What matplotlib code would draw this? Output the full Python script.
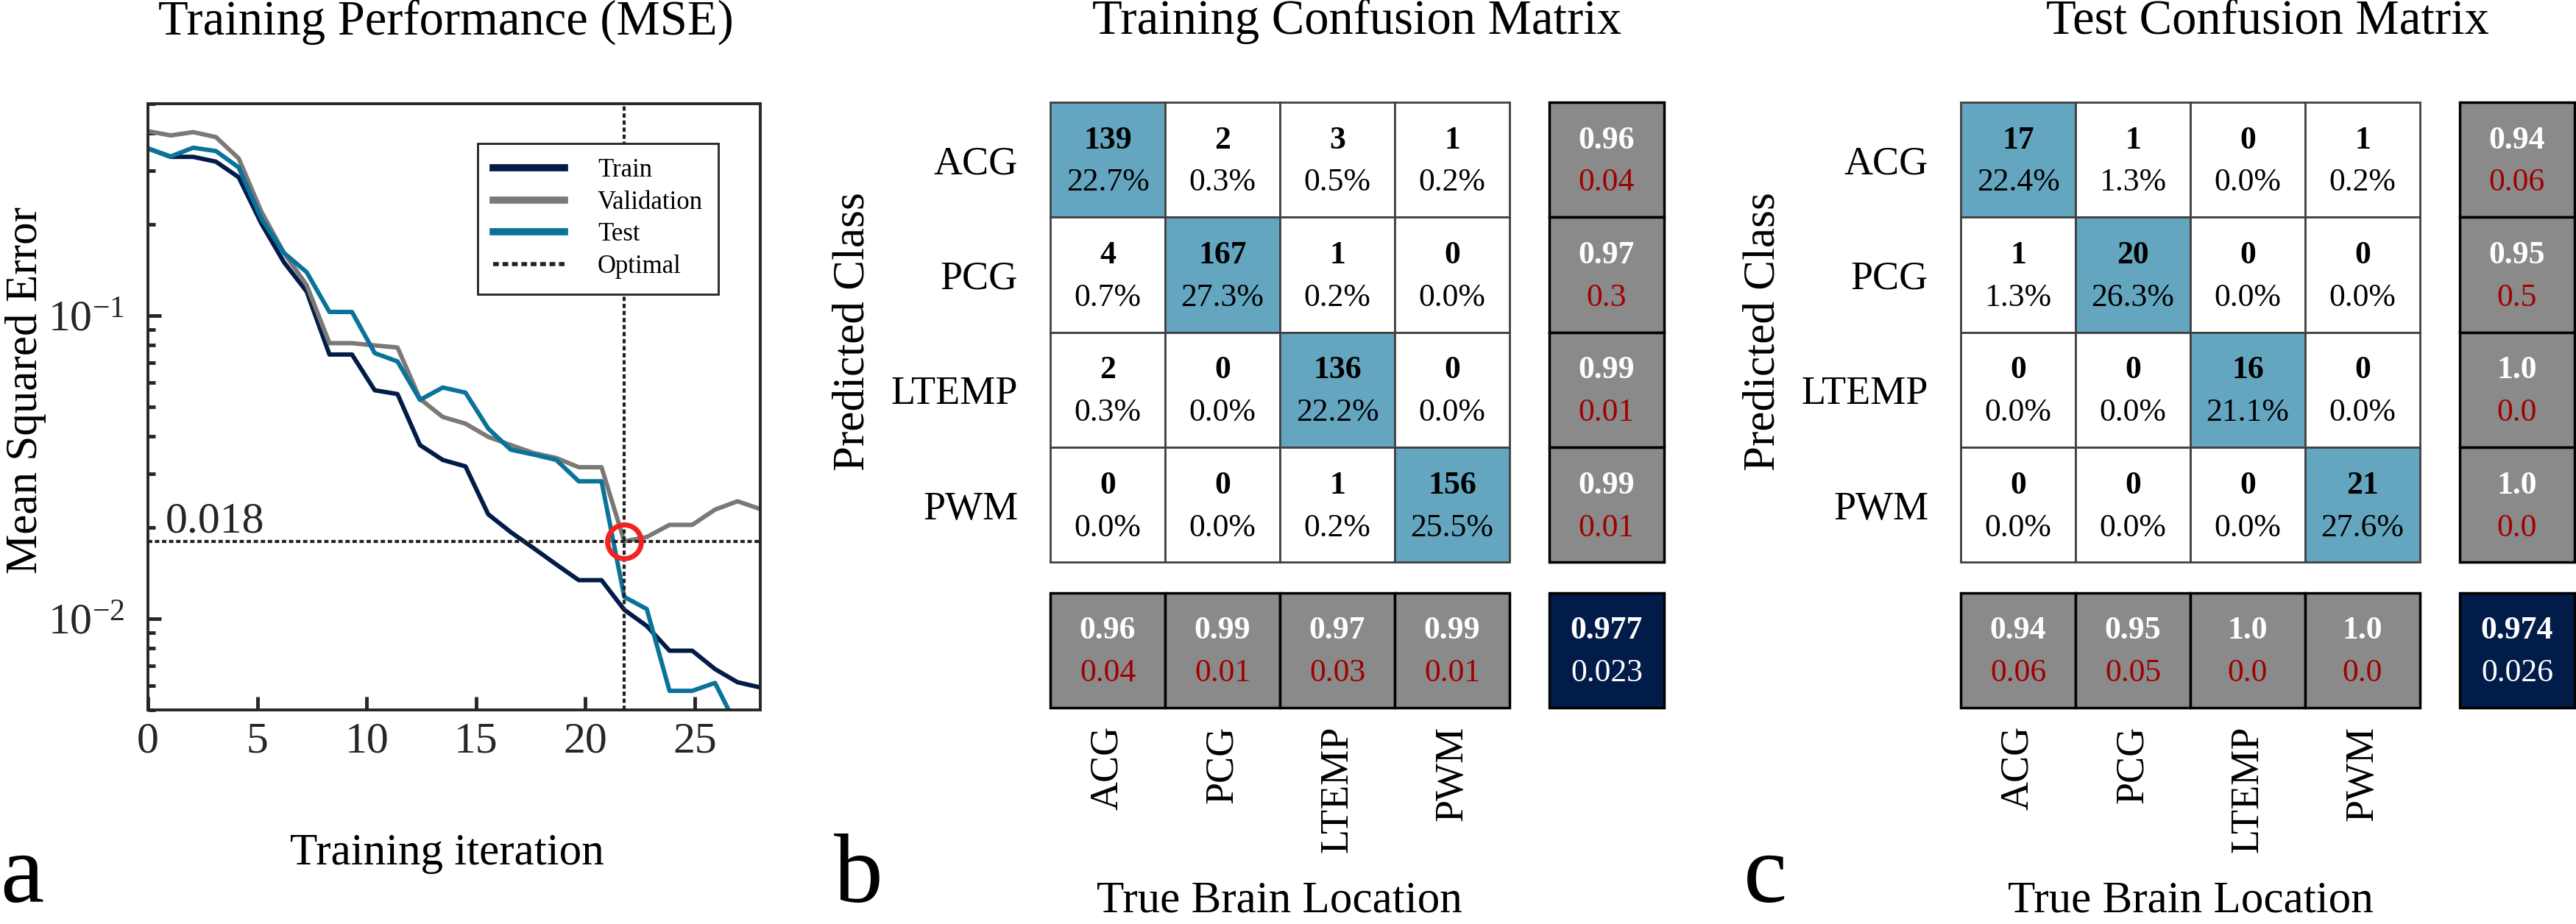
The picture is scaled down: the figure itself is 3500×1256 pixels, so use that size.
import matplotlib
matplotlib.use("Agg")
import matplotlib.pyplot as plt
from matplotlib.patches import Rectangle
from matplotlib.ticker import NullFormatter

plt.rcParams["font.family"] = ["Liberation Serif", "DejaVu Serif"]
plt.rcParams["mathtext.fontset"] = "custom"
plt.rcParams["mathtext.rm"] = "Liberation Serif"
plt.rcParams["axes.unicode_minus"] = False

# ---------------- data ----------------
classes = ["ACG", "PCG", "LTEMP", "PWM"]

# training curve
iters = [0, 1.04, 2.07, 3.11, 4.15, 5.19, 6.22, 7.26, 8.30, 9.33, 10.37,
         11.41, 12.44, 13.48, 14.52, 15.56, 16.59, 17.63, 18.67, 19.70,
         20.74, 21.78, 22.81, 23.85, 24.89, 25.93, 26.96, 28.0]
mse_train = [0.356, 0.334, 0.334, 0.322, 0.286, 0.201, 0.150, 0.120, 0.0744,
             0.0744, 0.0567, 0.0551, 0.0374, 0.0334, 0.0318, 0.0221, 0.0193,
             0.0171, 0.0151, 0.0134, 0.0134, 0.0107, 0.00946, 0.00784,
             0.00784, 0.00682, 0.00617, 0.00593]
mse_val = [0.406, 0.393, 0.403, 0.388, 0.330, 0.220, 0.161, 0.126, 0.0811,
           0.0811, 0.0797, 0.0785, 0.0531, 0.0463, 0.0440, 0.0398, 0.0374,
           0.0352, 0.0339, 0.0316, 0.0316, 0.018, 0.0186, 0.0204, 0.0204,
           0.0229, 0.0244, 0.0230]
mse_test = [0.356, 0.335, 0.358, 0.349, 0.308, 0.209, 0.161, 0.139, 0.1028,
            0.1028, 0.0752, 0.0706, 0.0527, 0.0579, 0.0557, 0.0424, 0.0361,
            0.0348, 0.0334, 0.0284, 0.0284, 0.0118, 0.01076, 0.00578,
            0.00578, 0.00614, 0.00437, 0.0040]
best_iter = 21.78
best_mse = 0.018

# training confusion matrix (rows = predicted, cols = true)
train_counts = [[139, 2, 3, 1], [4, 167, 1, 0], [2, 0, 136, 0], [0, 0, 1, 156]]
train_pct = [[22.7, 0.3, 0.5, 0.2], [0.7, 27.3, 0.2, 0.0],
             [0.3, 0.0, 22.2, 0.0], [0.0, 0.0, 0.2, 25.5]]
train_row_acc = ["0.96", "0.97", "0.99", "0.99"]
train_row_err = ["0.04", "0.3", "0.01", "0.01"]
train_col_acc = ["0.96", "0.99", "0.97", "0.99"]
train_col_err = ["0.04", "0.01", "0.03", "0.01"]
train_total = ["0.977", "0.023"]

# test confusion matrix
test_counts = [[17, 1, 0, 1], [1, 20, 0, 0], [0, 0, 16, 0], [0, 0, 0, 21]]
test_pct = [[22.4, 1.3, 0.0, 0.2], [1.3, 26.3, 0.0, 0.0],
            [0.0, 0.0, 21.1, 0.0], [0.0, 0.0, 0.0, 27.6]]
test_row_acc = ["0.94", "0.95", "1.0", "1.0"]
test_row_err = ["0.06", "0.5", "0.0", "0.0"]
test_col_acc = ["0.94", "0.95", "1.0", "1.0"]
test_col_err = ["0.06", "0.05", "0.0", "0.0"]
test_total = ["0.974", "0.026"]

# colours
navy = "#021c49"
grey = "#7d7878"
teal = "#0a7399"
dark = "#262626"
diag_col = "#64a6c0"
sum_col = "#8a8a8a"
err_col = "#a00000"
ring_col = "#f52222"

W, H = 3500, 1256
fig = plt.figure(figsize=(W / 100, H / 100), dpi=100)


def box(l, t, r, b):
    return [l / W, 1 - b / H, (r - l) / W, (b - t) / H]


def fx(x):
    return x / W


def fy(y):
    return 1 - y / H


# ---------------- a: training performance ----------------
ax = fig.add_axes(box(201, 141, 1033, 965))
ax.plot(iters, mse_train, color=navy, lw=4.3, label="Train")
ax.plot(iters, mse_val, color=grey, lw=4.3, label="Validation")
ax.plot(iters, mse_test, color=teal, lw=4.3, label="Test")
dots = (0, (1.4, 0.9))
ax.axvline(best_iter, color="#222222", lw=3, ls=dots, label="Optimal")
ax.axhline(best_mse, color="#222222", lw=3, ls=dots)
ax.plot([best_iter], [best_mse], "o", ms=33, mfc="none", mec=ring_col, mew=5)
ax.set_yscale("log")
ax.set_xlim(0, 28)
ax.set_ylim(0.005, 0.5)
ax.set_xticks([0, 5, 10, 15, 20, 25])
ax.set_yticks([0.01, 0.1], [r"$\mathdefault{10^{-2}}$", r"$\mathdefault{10^{-1}}$"])
ax.yaxis.set_minor_formatter(NullFormatter())
ax.tick_params(which="both", direction="in", colors=dark, labelsize=43, width=3.5)
ax.tick_params(which="major", length=13)
ax.tick_params(which="minor", length=7)
ax.tick_params(axis="x", pad=12)
ax.tick_params(axis="y", pad=23)
for s in ax.spines.values():
    s.set_linewidth(2.8)
    s.set_color(dark)
ax.text(0.8, best_mse * 1.07, "{}".format(best_mse), fontsize=43, color=dark,
        va="baseline")
leg = ax.legend(loc="upper right", bbox_to_anchor=(0.952, 0.956), fontsize=25,
                fancybox=False, edgecolor="#222222", framealpha=1,
                handlelength=2.8, handletextpad=1.3, labelspacing=0.3,
                borderpad=0.6)
leg.get_frame().set_linewidth(2)
for h in leg.legend_handles[:3]:
    h.set_linewidth(7)
leg.legend_handles[3].set_linewidth(4)

fig.text(fx(606), fy(47), "Training Performance (MSE)", fontsize=48,
         ha="center", va="baseline")
fig.text(fx(607), fy(1175), "Training iteration", fontsize=44,
         ha="center", va="baseline")
fig.text(fx(35), fy(531), "Mean Squared Error", fontsize=44, rotation=90,
         ha="center", va="center")
fig.text(fx(0), fy(1226), "a", fontsize=96, ha="left", va="baseline")


# ---------------- b, c: confusion matrices ----------------
def draw_matrix(ax, counts, pct, row_acc, row_err, col_acc, col_err, total):
    n = len(classes)
    gx, gy = 0.346, 0.263
    for i in range(n):
        for j in range(n):
            fc = diag_col if i == j else "white"
            ax.add_patch(Rectangle((j, i), 1, 1, fc=fc, ec="#404040", lw=2,
                                   clip_on=False))
            ax.text(j + 0.5, i + 0.5 - 0.17, str(counts[i][j]), fontsize=31.5,
                    fontweight="bold", ha="center", va="center")
            ax.text(j + 0.5, i + 0.5 + 0.2, "{:.1f}%".format(pct[i][j]),
                    fontsize=31.5, ha="center", va="center")
    # right column: per predicted class
    for i in range(n):
        ax.add_patch(Rectangle((n + gx, i), 1, 1, fc=sum_col, ec="black",
                               lw=2.5, clip_on=False))
        ax.text(n + gx + 0.5, i + 0.5 - 0.17, row_acc[i], fontsize=31.5,
                fontweight="bold", color="white", ha="center", va="center")
        ax.text(n + gx + 0.5, i + 0.5 + 0.2, row_err[i], fontsize=31.5,
                color=err_col, ha="center", va="center")
    # bottom row: per true class
    for j in range(n):
        ax.add_patch(Rectangle((j, n + gy), 1, 1, fc=sum_col, ec="black",
                               lw=2.5, clip_on=False))
        ax.text(j + 0.5, n + gy + 0.5 - 0.17, col_acc[j], fontsize=31.5,
                fontweight="bold", color="white", ha="center", va="center")
        ax.text(j + 0.5, n + gy + 0.5 + 0.2, col_err[j], fontsize=31.5,
                color=err_col, ha="center", va="center")
    # overall
    ax.add_patch(Rectangle((n + gx, n + gy), 1, 1, fc=navy, ec="black",
                           lw=2.5, clip_on=False))
    ax.text(n + gx + 0.5, n + gy + 0.5 - 0.17, total[0], fontsize=31.5,
            fontweight="bold", color="white", ha="center", va="center")
    ax.text(n + gx + 0.5, n + gy + 0.5 + 0.2, total[1], fontsize=31.5,
            color="white", ha="center", va="center")

    ax.set_xlim(0, n + gx + 1)
    ax.set_ylim(n + gy + 1, 0)
    for s in ax.spines.values():
        s.set_visible(False)
    ax.set_xticks([j + 0.5 for j in range(n)], classes, rotation=90)
    ax.set_yticks([i + 0.5 for i in range(n)], classes)
    ax.tick_params(length=0, labelsize=39)
    ax.tick_params(axis="x", pad=18)
    ax.tick_params(axis="y", pad=31.5)


axb = fig.add_axes(box(1427, 139, 2261, 962))
draw_matrix(axb, train_counts, train_pct, train_row_acc, train_row_err,
            train_col_acc, train_col_err, train_total)
fig.text(fx(1844), fy(46), "Training Confusion Matrix", fontsize=48,
         ha="center", va="baseline")
fig.text(fx(1159), fy(451), "Predicted Class", fontsize=44, rotation=90,
         ha="center", va="center")
fig.text(fx(1738), fy(1240), "True Brain Location", fontsize=44,
         ha="center", va="baseline")
fig.text(fx(1133), fy(1226), "b", fontsize=96, ha="left", va="baseline")

axc = fig.add_axes(box(2664, 139, 3498, 962))
draw_matrix(axc, test_counts, test_pct, test_row_acc, test_row_err,
            test_col_acc, test_col_err, test_total)
fig.text(fx(3081), fy(46), "Test Confusion Matrix", fontsize=48,
         ha="center", va="baseline")
fig.text(fx(2396), fy(451), "Predicted Class", fontsize=44, rotation=90,
         ha="center", va="center")
fig.text(fx(2976), fy(1240), "True Brain Location", fontsize=44,
         ha="center", va="baseline")
fig.text(fx(2369), fy(1226), "c", fontsize=96, ha="left", va="baseline")

fig.savefig("out.png", dpi=100)
